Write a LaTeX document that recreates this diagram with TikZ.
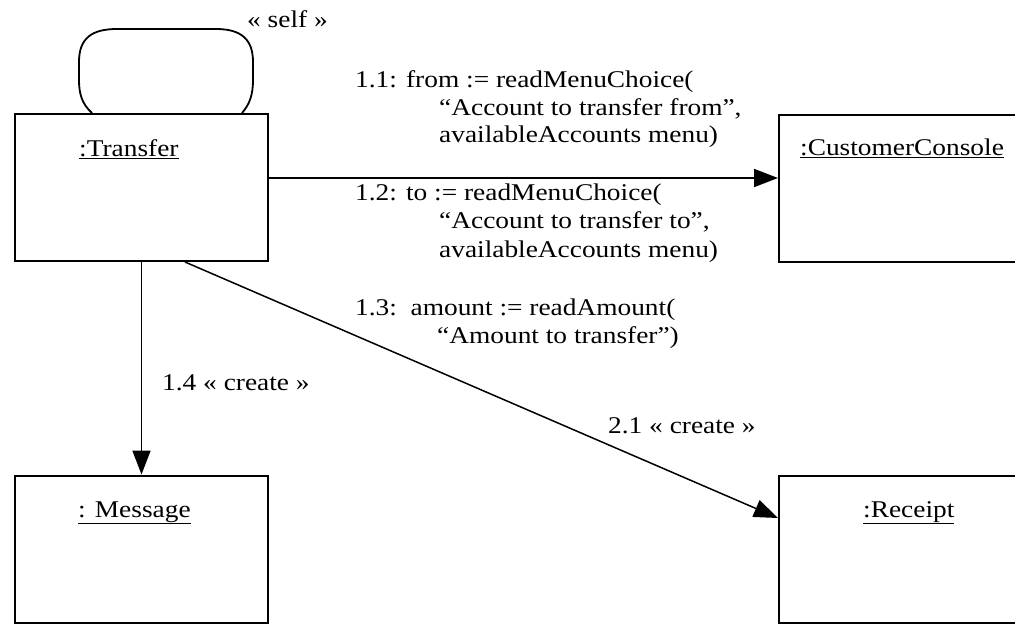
\documentclass[tikz,border=0pt]{standalone}
\usepackage{fontspec}
\setmainfont{Liberation Serif}[FakeStretch=1.14]
\usetikzlibrary{arrows.meta}

\begin{document}
\begin{tikzpicture}[x=1pt,y=-1pt,
  obj/.style={draw,line width=2pt,minimum width=253pt,minimum height=147pt,inner sep=0pt},
  txt/.style={anchor=base west,inner sep=0pt,font=\fontsize{24}{28}\selectfont},
  msg/.style={line width=1.8pt,-{Triangle[length=24pt,width=18pt]}},
  link/.style={line width=1.8pt}]
\useasboundingbox (0,0) rectangle (1015,624);
\clip (0,0) rectangle (1015,624);

% objects
\node[obj] (T) at (141.5,187.5) {};
\node[obj] (C) at (905.5,188) {};
\node[obj] (M) at (141.5,549) {};
\node[obj] (R) at (905.5,549) {};

\node[txt] (tT) at (79,156) {\underline{:Transfer}};
\node[txt] (tC) at (800,155) {\underline{:CustomerConsole}};
\node[txt] (tM) at (78,517) {\underline{: Message}};
\node[txt] (tR) at (863,517) {\underline{:Receipt}};

% self link on :Transfer
\coordinate (sl) at ([xshift=-49.5pt]T.north);
\coordinate (sr) at ([xshift=100.5pt]T.north);
\draw[link] (sl) .. controls (82,104) and (79,94) .. (79,80) -- (79,62)
  .. controls (79,38) and (92,29) .. (117,29) -- (216,29)
  .. controls (242,29) and (253,40) .. (253,62) -- (253,80)
  .. controls (253,94) and (250,104) .. (sr);
\node[txt] (lself) at (247,27) {« self »};

% links between objects
\draw[msg] ([yshift=9.5pt]T.east) -- ([yshift=10pt]C.west);
\draw[msg] (T.south) -- (M.north);
\draw[msg,line width=1.5pt] ([xshift=43.5pt]T.south) -- ([yshift=31pt]R.west);

% message labels
\node[txt] (m11a) at (355,87) {1.1: from := readMenuChoice(};
\node[txt] (m11b) at (439,115) {“Account to transfer from”,};
\node[txt] (m11c) at (439,142) {availableAccounts menu)};
\node[txt] (m12a) at (355,200) {1.2: to := readMenuChoice(};
\node[txt] (m12b) at (439,228) {“Account to transfer to”,};
\node[txt] (m12c) at (439,257) {availableAccounts menu)};
\node[txt] (m13a) at (355,315) {1.3:\ \ amount := readAmount(};
\node[txt] (m13b) at (437,343) {“Amount to transfer”)};
\node[txt] (m14) at (162,390) {1.4 « create »};
\node[txt] (m21) at (608,433) {2.1 « create »};
\end{tikzpicture}
\end{document}
